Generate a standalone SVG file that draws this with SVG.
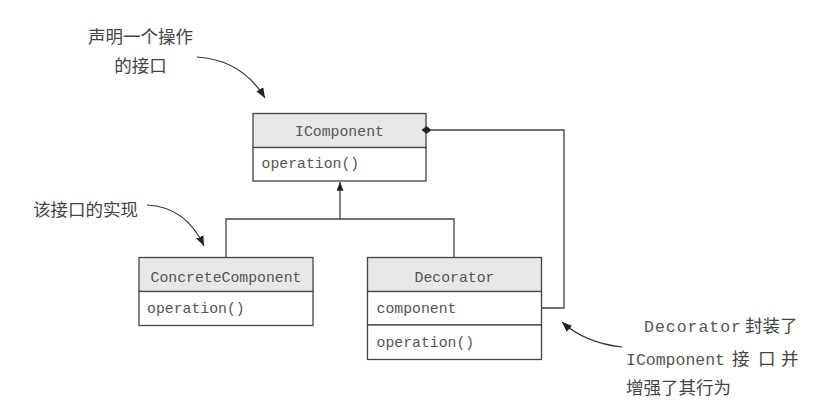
<svg xmlns="http://www.w3.org/2000/svg" width="828" height="414" viewBox="0 0 828 414">
<defs>
<marker id="ah" viewBox="0 0 10 8" refX="10" refY="4" markerWidth="10" markerHeight="8" markerUnits="userSpaceOnUse" orient="auto">
<path d="M0,0 L10,4 L0,8 Z" fill="#222"/>
</marker>
<marker id="tri" viewBox="0 0 10 8" refX="10" refY="4" markerWidth="9" markerHeight="7" markerUnits="userSpaceOnUse" orient="auto">
<path d="M0,0 L10,4 L0,8 Z" fill="#222"/>
</marker>
</defs>
<style>
.box{fill:#fff;stroke:#444;stroke-width:1.3}
.hdr{fill:#e8e8e8;stroke:#444;stroke-width:1.3}
.mono{font-family:"Liberation Mono","DejaVu Sans Mono",monospace;font-size:14.8px;fill:#555}
.note{font-family:"Noto Sans CJK SC",sans-serif;font-size:17.5px;fill:#444}
.notem{font-family:"Liberation Mono",monospace;font-size:16.5px;fill:#555}
.conn{fill:none;stroke:#444;stroke-width:1.3}
.curve{fill:none;stroke:#333;stroke-width:1.2}
</style>
<rect width="828" height="414" fill="#fff"/>

<g id="IComponent">
<rect class="hdr" x="253" y="113.5" width="173" height="34"/>
<rect class="box" x="253" y="147.5" width="173" height="33.5"/>
<text class="mono" x="339.5" y="136" text-anchor="middle">IComponent</text>
<text class="mono" x="261.5" y="168">operation()</text>
</g>

<g id="ConcreteComponent">
<rect class="hdr" x="139" y="257.5" width="174" height="34"/>
<rect class="box" x="139" y="291.5" width="174" height="34"/>
<text class="mono" x="226" y="281.5" text-anchor="middle">ConcreteComponent</text>
<text class="mono" x="147" y="313">operation()</text>
</g>

<g id="Decorator">
<rect class="hdr" x="367.5" y="257.5" width="174" height="34"/>
<rect class="box" x="367.5" y="291.5" width="174" height="33.5"/>
<rect class="box" x="367.5" y="325" width="174" height="34.5"/>
<text class="mono" x="454.5" y="281.5" text-anchor="middle">Decorator</text>
<text class="mono" x="376.5" y="313">component</text>
<text class="mono" x="376.5" y="346.5">operation()</text>
</g>

<g id="note-interface">
<text class="note" x="140.5" y="43" text-anchor="middle">声明一个操作</text>
<text class="note" x="140.5" y="72" text-anchor="middle">的接口</text>
</g>

<g id="note-impl">
<text class="note" x="33" y="216">该接口的实现</text>
</g>

<g id="note-decorator">
<text class="notem" x="644" y="332" textLength="97" lengthAdjust="spacing">Decorator</text>
<text class="note" x="745" y="332">封装了</text>
<text class="notem" x="626" y="365" textLength="99" lengthAdjust="spacing">IComponent</text>
<text class="note" x="732" y="365">接</text>
<text class="note" x="758" y="365">口</text>
<text class="note" x="781" y="365">并</text>
<text class="note" x="626" y="394">增强了其行为</text>
</g>

<g id="connectors">
<polyline class="conn" points="226,257 226,219 454,219 454,257"/>
<line class="conn" x1="340" y1="219" x2="340" y2="182" marker-end="url(#tri)"/>
<polyline class="conn" points="431,130 564,130 564,308 542,308"/>
<path d="M421.5,130 L426.5,126 L431.5,130 L426.5,134 Z" fill="#222"/>
<path class="curve" d="M197,57 Q242,60 265,98" marker-end="url(#ah)"/>
<path class="curve" d="M147,205 Q186,207 204,246" marker-end="url(#ah)"/>
<path class="curve" d="M622,347 Q585,343 562,322" marker-end="url(#ah)"/>
</g>
</svg>
